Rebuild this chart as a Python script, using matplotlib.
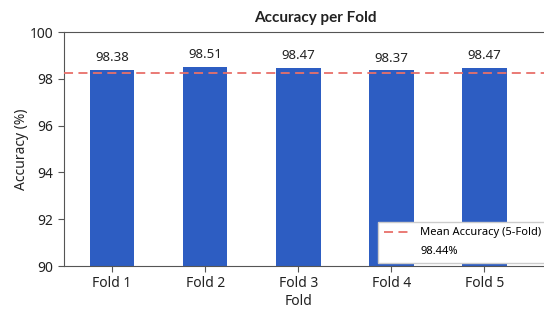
"""Accuracy per fold bar chart with the mean accuracy line."""

import matplotlib

matplotlib.use("Agg")
import matplotlib.pyplot as plt
from matplotlib.lines import Line2D

folds = ["Fold 1", "Fold 2", "Fold 3", "Fold 4", "Fold 5"]
accuracy = [98.38, 98.51, 98.47, 98.37, 98.47]
mean_line_level = 98.24  # where the dashed line sits in the picture
mean_name = "Mean Accuracy (5-Fold)"
mean_value_text = "98.44%"
y_ticks = [90, 92, 94, 96, 98, 100]

plt.rcParams["font.family"] = ["Noto Sans", "DejaVu Sans"]

fig = plt.figure(figsize=(5.44, 3.09), dpi=100)
# the axes run past the right edge, as in the cropped original
ax = fig.add_axes([64 / 544, 43 / 309, 496 / 544, 234 / 309])

x = list(range(len(folds)))
bars = ax.bar(x, accuracy, width=0.48, color="#2d5dc2", zorder=2)
ax.bar_label(bars, labels=[f"{v:.2f}" for v in accuracy], padding=4,
             fontsize=9.5, color="#222222")

mean_line = ax.axhline(mean_line_level, color="#e8706a",
                       linestyle=(0, (5, 3)), linewidth=1.3, zorder=3)

ax.set_xlim(-0.516, -0.516 + 496 / 93.1)
ax.set_ylim(90, 100)
ax.set_yticks(y_ticks)
ax.set_xticks(x)
ax.set_xticklabels(folds)
ax.tick_params(labelsize=10, colors="#222222", length=4)
ax.tick_params(color="#555555")

ax.set_title("Accuracy per Fold", fontsize=11, fontweight="bold",
             family=["Lato", "DejaVu Sans"], x=0.506, pad=7, color="#222222")
ax.set_xlabel("Fold", fontsize=10, x=0.472, labelpad=2, color="#222222")
ax.set_ylabel("Accuracy (%)", fontsize=10, labelpad=1, color="#222222")

for side in ["top", "left", "bottom"]:
    ax.spines[side].set_color("#555555")
ax.spines["right"].set_visible(False)

# second legend row carries the mean value under the label
blank = Line2D([], [], linestyle="none")
ax.legend([mean_line, blank], [mean_name, mean_value_text],
          loc="lower left", bbox_to_anchor=(0.633, 0.014), borderaxespad=0,
          fontsize=8, frameon=True, framealpha=1, edgecolor="#cccccc",
          fancybox=False, borderpad=0.5, handlelength=2.4,
          handletextpad=0.9, labelspacing=0.7)

fig.savefig("out.png", dpi=100)
